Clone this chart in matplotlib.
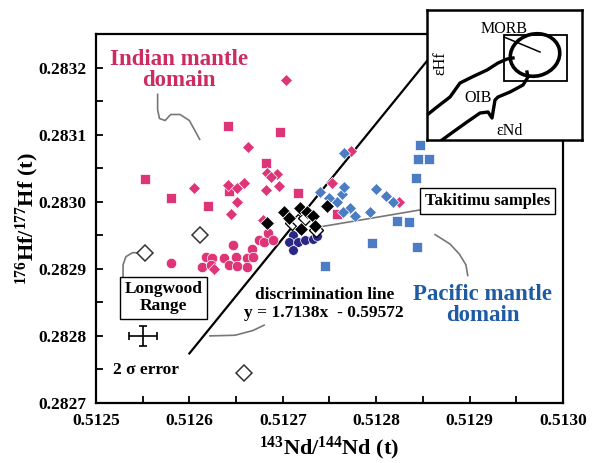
import matplotlib
matplotlib.use("Agg")
import matplotlib.pyplot as plt
import numpy as np
from matplotlib.ticker import MultipleLocator, FormatStrFormatter
from matplotlib.patches import Ellipse, Rectangle

plt.rcParams['font.family'] = ['Liberation Serif', 'DejaVu Serif']
plt.rcParams['font.weight'] = 'bold'
plt.rcParams['axes.labelweight'] = 'bold'
plt.rcParams['mathtext.fontset'] = 'custom'
plt.rcParams['mathtext.rm'] = 'Liberation Serif:bold'
plt.rcParams['mathtext.bf'] = 'Liberation Serif:bold'
plt.rcParams['mathtext.it'] = 'Liberation Serif:bold:italic'

PINK = '#dd3577'
BLUE = '#4b7cc4'
NAVY = '#2b2785'

# Indian mantle domain samples
indian_sq_x = [0.512641, 0.512697, 0.512553, 0.512580, 0.512620, 0.512682, 0.512716, 0.512758, 0.512642]
indian_sq_y = [0.283113, 0.283104, 0.283034, 0.283006, 0.282994, 0.283057, 0.283013, 0.282981, 0.283016]

indian_dm_x = [0.512703, 0.512663, 0.512605, 0.512641, 0.512651, 0.512658, 0.512683, 0.512694, 0.512687,
               0.512696, 0.512682, 0.512651, 0.512645, 0.512679, 0.512753, 0.512773, 0.512824, 0.512626]
indian_dm_y = [0.283181, 0.283082, 0.283021, 0.283025, 0.283021, 0.283028, 0.283043, 0.283042, 0.283037,
               0.283024, 0.283018, 0.283000, 0.282981, 0.282973, 0.283028, 0.283076, 0.283000, 0.282899]

indian_ci_x = [0.512580, 0.512613, 0.512618, 0.512624, 0.512623, 0.512637, 0.512642, 0.512647, 0.512650,
               0.512651, 0.512662, 0.512662, 0.512667, 0.512668, 0.512675, 0.512680, 0.512684, 0.512690]
indian_ci_y = [0.282909, 0.282903, 0.282918, 0.282916, 0.282906, 0.282916, 0.282906, 0.282936, 0.282918,
               0.282904, 0.282916, 0.282903, 0.282930, 0.282918, 0.282943, 0.282940, 0.282954, 0.282943]

# Pacific mantle domain samples
pac_dm_x = [0.512765, 0.512740, 0.512758, 0.512763, 0.512765, 0.512800, 0.512811, 0.512818, 0.512793,
            0.512772, 0.512777, 0.512764, 0.512750]
pac_dm_y = [0.283073, 0.283015, 0.283000, 0.283012, 0.283022, 0.283019, 0.283009, 0.282999, 0.282985,
            0.282990, 0.282979, 0.282985, 0.283006]

pac_sq_x = [0.512847, 0.512845, 0.512856, 0.512843, 0.512822, 0.512835, 0.512796, 0.512844, 0.512745]
pac_sq_y = [0.283084, 0.283064, 0.283064, 0.283036, 0.282972, 0.282970, 0.282939, 0.282933, 0.282904]

navy_x = [0.512711, 0.512707, 0.512716, 0.512711, 0.512724, 0.512732, 0.512737]
navy_y = [0.282951, 0.282940, 0.282940, 0.282928, 0.282943, 0.282945, 0.282949]

# Takitimu samples
taki_x = [0.512683, 0.512701, 0.512707, 0.512718, 0.512726, 0.512732, 0.512720, 0.512734, 0.512747]
taki_y = [0.282969, 0.282984, 0.282975, 0.282990, 0.282985, 0.282978, 0.282960, 0.282964, 0.282994]
taki_open_x = [0.512710, 0.512716, 0.512724, 0.512736]
taki_open_y = [0.282969, 0.282972, 0.282976, 0.282958]

# Longwood range
long_x = [0.512552, 0.512611, 0.512659]
long_y = [0.282924, 0.282951, 0.282745]

# discrimination line y = 1.7138x - 0.59572
slope, intercept = 1.7138, -0.59572
line_x = np.array([0.5126, 0.51290])

err_x, err_y = 0.51255, 0.28280
err_dx, err_dy = 0.000015, 0.000015

fig = plt.figure(figsize=(6.01, 4.63), dpi=100)
ax = fig.add_axes([0.1597, 0.1296, 0.7771, 0.797])

ax.plot(line_x, slope * line_x + intercept, color='black', lw=1.6, zorder=2)

mk = dict(linestyle='none', markeredgecolor='white', markeredgewidth=0.5, zorder=3)
ax.plot(indian_sq_x, indian_sq_y, marker='s', ms=7, color=PINK, **mk)
ax.plot(indian_ci_x, indian_ci_y, marker='o', ms=7.5, color=PINK, **mk)
ax.plot(indian_dm_x, indian_dm_y, marker='D', ms=6, color=PINK, **mk)
ax.plot(pac_sq_x, pac_sq_y, marker='s', ms=7, color=BLUE, **mk)
ax.plot(pac_dm_x, pac_dm_y, marker='D', ms=6, color=BLUE, **mk)
ax.plot(navy_x, navy_y, marker='o', ms=7, color=NAVY, **mk)

ax.plot(taki_open_x, taki_open_y, linestyle='none', marker='D', ms=7.5, markerfacecolor='white',
        markeredgecolor='black', markeredgewidth=1.0, zorder=4)
ax.plot(taki_x, taki_y, linestyle='none', marker='D', ms=7.5, color='black',
        markeredgecolor='white', markeredgewidth=0.6, zorder=4)
ax.plot(long_x, long_y, linestyle='none', marker='D', ms=8, markerfacecolor='white',
        markeredgecolor='#333333', markeredgewidth=1.1, zorder=4)

ax.errorbar(err_x, err_y, xerr=err_dx, yerr=err_dy, fmt='none', ecolor='black',
            elinewidth=1.2, capsize=3, capthick=1.2)

# leader lines
lead = dict(color='#777777', lw=1.2, zorder=2)
ax.plot([0.512566, 0.512566, 0.512568, 0.512574, 0.512580, 0.512590, 0.512600, 0.512611],
        [0.283160, 0.283137, 0.283124, 0.283121, 0.283130, 0.283130, 0.283121, 0.283093], **lead)
ax.plot([0.512863, 0.512879, 0.512889, 0.512896, 0.512898],
        [0.282951, 0.282937, 0.282922, 0.282906, 0.282890], **lead)
ax.plot([0.512848, 0.512793, 0.512742], [0.282988, 0.282975, 0.282963], **lead)
ax.plot([0.512529, 0.512529, 0.512532, 0.512539, 0.512544],
        [0.282888, 0.282906, 0.282918, 0.282924, 0.282924], **lead)
ax.plot([0.512622, 0.512649, 0.512668, 0.512680], [0.282800, 0.282801, 0.282808, 0.282816], **lead)

ax.text(0.512589, 0.283197, 'Indian mantle\ndomain', color='#cc2c62', fontsize=16.5,
        ha='center', va='center', linespacing=1.0)
ax.text(0.512914, 0.282846, 'Pacific mantle\ndomain', color='#1f5ba3', fontsize=16.5,
        ha='center', va='center', linespacing=0.95)
ax.text(0.512919, 0.283001, 'Takitimu samples', fontsize=12, ha='center', va='center',
        bbox=dict(boxstyle='square,pad=0.3', fc='white', ec='black', lw=1.0), zorder=5)
ax.text(0.512572, 0.282857, 'Longwood\nRange', fontsize=12.5, ha='center', va='center',
        linespacing=1.1, bbox=dict(boxstyle='square,pad=0.25', fc='white', ec='black', lw=1.0), zorder=5)
ax.text(0.512553, 0.282749, '2 σ error', fontsize=12.5, ha='center', va='center')
ax.text(0.512745, 0.282861, 'discrimination line', fontsize=12.5, ha='center', va='center')
ax.text(0.512744, 0.282834, 'y = 1.7138x  - 0.59572', fontsize=12.5, ha='center', va='center')

ax.set_xlim(0.5125, 0.5130)
ax.set_ylim(0.2827, 0.28325)
ax.xaxis.set_major_locator(MultipleLocator(0.0001))
ax.xaxis.set_minor_locator(MultipleLocator(0.00005))
ax.yaxis.set_major_locator(MultipleLocator(0.0001))
ax.yaxis.set_minor_locator(MultipleLocator(0.00005))
ax.xaxis.set_major_formatter(FormatStrFormatter('%.4f'))
ax.yaxis.set_major_formatter(FormatStrFormatter('%.4f'))
ax.tick_params(which='both', direction='in', length=5, width=1.3, labelsize=12.5, pad=7)
for s in ax.spines.values():
    s.set_linewidth(1.6)
ax.set_xlabel(r'$^{143}$Nd/$^{144}$Nd (t)', fontsize=16, fontweight='bold', labelpad=4)
ax.set_ylabel(r'$^{176}$Hf/$^{177}$Hf (t)', fontsize=16, fontweight='bold', labelpad=-2)

# schematic inset
ins = fig.add_axes([0.7105, 0.6976, 0.2579, 0.2808], zorder=5)
ins.set_facecolor('white')
ins.set_xlim(0, 155)
ins.set_ylim(130, 0)
ins.set_xticks([])
ins.set_yticks([])
for s in ins.spines.values():
    s.set_linewidth(1.8)

oib_top_x = [0, 10, 23, 33, 45, 60, 71, 80, 86]
oib_top_y = [105, 97, 87, 73, 67, 60, 53, 49, 48]
oib_bot_x = [15, 26, 40, 53, 61, 65, 68, 71, 83, 96, 101, 100]
oib_bot_y = [130, 122, 112, 103, 102, 108, 90, 87, 82, 75, 67, 62]
ins.plot(oib_top_x, oib_top_y, color='black', lw=2.4)
ins.plot(oib_bot_x, oib_bot_y, color='black', lw=2.4)
ins.add_patch(Ellipse((108, 45), 50, 42, angle=-15, fill=False, ec='black', lw=2.6))
ins.add_patch(Rectangle((77, 25), 63, 46, fill=False, ec='black', lw=1.3))
ins.plot([77, 113], [27, 42], color='black', lw=1.1)
txt = dict(fontsize=11.5, fontweight='normal', ha='center', va='center')
ins.text(77, 19, 'MORB', **txt)
ins.text(51, 88, 'OIB', **txt)
ins.text(83, 121, 'εNd', **txt)
ins.text(13, 53, 'εHf', rotation=90, **txt)

fig.savefig('out.png', dpi=100)
